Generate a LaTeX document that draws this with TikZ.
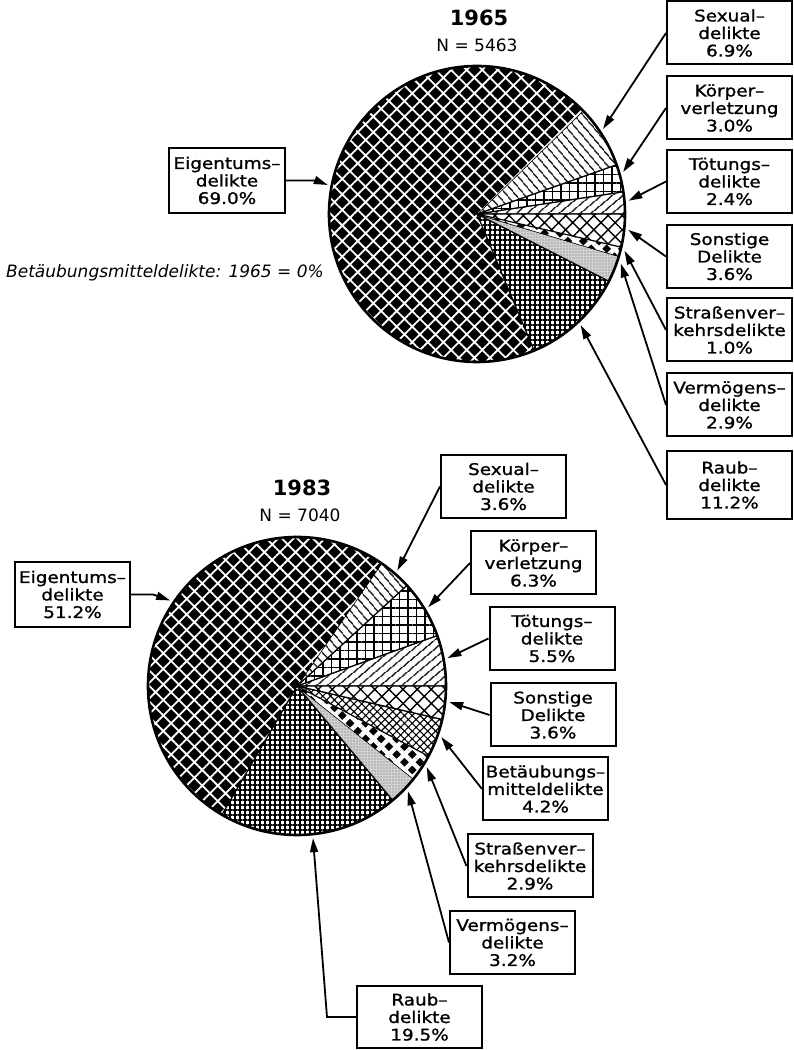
\documentclass[tikz,border=0pt]{standalone}
\usepackage{fontspec}
\setmainfont{DejaVu Sans}
\newfontfamily\plotfont{DejaVu Sans}[FakeStretch=1.15,FakeBold=1.2]
\usetikzlibrary{patterns.meta,arrows.meta,calc}

\tikzset{
  box/.style={draw, line width=2pt, minimum width=125pt, minimum height=63pt,
    inner sep=0pt, align=center, font=\plotfont\fontsize{16}{17.5}\selectfont},
  ptr/.style={line width=1.8pt, -{Triangle[length=14pt,width=8pt]}},
  rim/.style={line width=2.6pt},
  % fillings of the slices
  eig/.style={fill=black, postaction={pattern={Hatch[angle=45,distance=11pt,line width=1.8pt]}, pattern color=white}},
  sex/.style={fill=white, postaction={pattern={Lines[angle=-50,distance=6.5pt,line width=1.3pt]}}},
  koe/.style={fill=white, postaction={pattern={Hatch[angle=0,distance=8.5pt,line width=1.4pt]}}},
  toe/.style={fill=white, postaction={pattern={Lines[angle=40,distance=6.5pt,line width=1.3pt]}}},
  son/.style={fill=white, postaction={pattern={Hatch[angle=45,distance=10pt,line width=1.4pt]}}},
  bet/.style={fill=white, postaction={pattern={Hatch[angle=45,distance=5.5pt,line width=1.1pt]}}},
  str/.style={fill=black, postaction={pattern={Hatch[angle=45,distance=11pt,line width=4.5pt]}, pattern color=white}},
  ver/.style={fill=black!18, postaction={pattern={Dots[distance=3pt,radius=0.7pt]}, pattern color=black!60}},
  rau/.style={fill=white, postaction={pattern={Hatch[angle=0,distance=5pt,line width=1.1pt]}}},
}

\begin{document}
\begin{tikzpicture}[x=1pt,y=1pt]
\useasboundingbox (0,0) rectangle (794,1050);

% 1965
\node[font=\bfseries\fontsize{21}{23}\selectfont] (t65) at (479,1032) {1965};
\node[font=\fontsize{17}{19}\selectfont] (n65) at (477,1005) {N = 5463};
\coordinate (o65) at (477,836);
\foreach \a/\b/\s in {0/8.64/toe, 8.64/19.44/koe, 19.44/44.28/sex, 44.28/292.68/eig,
    292.68/333/rau, 333/343.44/ver, 343.44/347.04/str, 347.04/360/son}
  \draw[\s, line width=1.2pt] (o65) -- ++(\a:148) arc[start angle=\a, end angle=\b, radius=148] -- cycle;
\draw[rim] (o65) circle[radius=148];

\node[box] (sex65) at (729.5,1017) {Sexual–\\delikte\\6.9\%};
\node[box] (koe65) at (729.5,942) {Körper–\\verletzung\\3.0\%};
\node[box] (toe65) at (729.5,868.5) {Tötungs–\\delikte\\2.4\%};
\node[box] (son65) at (729.5,793.5) {Sonstige\\Delikte\\3.6\%};
\node[box] (str65) at (729.5,720) {Straßenver–\\kehrsdelikte\\1.0\%};
\node[box] (ver65) at (729.5,645) {Vermögens–\\delikte\\2.9\%};
\node[box, minimum height=68pt] (rau65) at (729.5,565) {Raub–\\delikte\\11.2\%};
\node[box, minimum width=116pt, minimum height=65pt] (eig65) at (227,869.5) {Eigentums–\\delikte\\69.0\%};

\foreach \n/\a in {sex/34, koe/16, toe/5, son/-6, str/-14, ver/-19, rau/-47, eig/169}
  \coordinate (p\n65) at ($(o65)+(\a:152)$);
\foreach \n in {sex,koe,toe,son,str,ver,rau}
  \draw[ptr] (\n65.west) -- (p\n65);
\draw[ptr] (eig65.east) -- ++(30,0) -- (peig65);

\node[font=\itshape\fontsize{17}{19}\selectfont] (note) at (165,777) {Betäubungsmitteldelikte: 1965 = 0\%};

% 1983
\node[font=\bfseries\fontsize{21}{23}\selectfont] (t83) at (302,562) {1983};
\node[font=\fontsize{17}{19}\selectfont] (n83) at (300,535) {N = 7040};
\coordinate (o83) at (297,364);
\foreach \a/\b/\s in {0/19.8/toe, 19.8/42.48/koe, 42.48/55.44/sex, 55.44/239.76/eig,
    239.76/309.96/rau, 309.96/321.48/ver, 321.48/331.92/str, 331.92/347.04/bet, 347.04/360/son}
  \draw[\s, line width=1.2pt] (o83) -- ++(\a:149) arc[start angle=\a, end angle=\b, radius=149] -- cycle;
\draw[rim] (o83) circle[radius=149];

\node[box] (sex83) at (503.5,563.5) {Sexual–\\delikte\\3.6\%};
\node[box] (koe83) at (533.5,487) {Körper–\\verletzung\\6.3\%};
\node[box] (toe83) at (552,411.5) {Tötungs–\\delikte\\5.5\%};
\node[box] (son83) at (553,335) {Sonstige\\Delikte\\3.6\%};
\node[box] (bet83) at (545.5,261) {Betäubungs–\\mitteldelikte\\4.2\%};
\node[box] (str83) at (530,184) {Straßenver–\\kehrsdelikte\\2.9\%};
\node[box] (ver83) at (512.5,107.5) {Vermögens–\\delikte\\3.2\%};
\node[box, minimum height=62pt] (rau83) at (419.5,33) {Raub–\\delikte\\19.5\%};
\node[box, minimum width=115pt, minimum height=65pt] (eig83) at (72.5,455.5) {Eigentums–\\delikte\\51.2\%};

\foreach \n/\a in {sex/49, koe/31, toe/10.5, son/-6, bet/-19.5, str/-32, ver/-43.5, rau/-84, eig/146}
  \coordinate (p\n83) at ($(o83)+(\a:153)$);
\foreach \n in {sex,koe,toe,son,bet,str,ver}
  \draw[ptr] (\n83.west) -- (p\n83);
\draw[ptr] (rau83.west) -- ++(-29,0) -- (prau83);
\draw[ptr] (eig83.east) -- ++(22,0) -- (peig83);

\end{tikzpicture}
\end{document}
